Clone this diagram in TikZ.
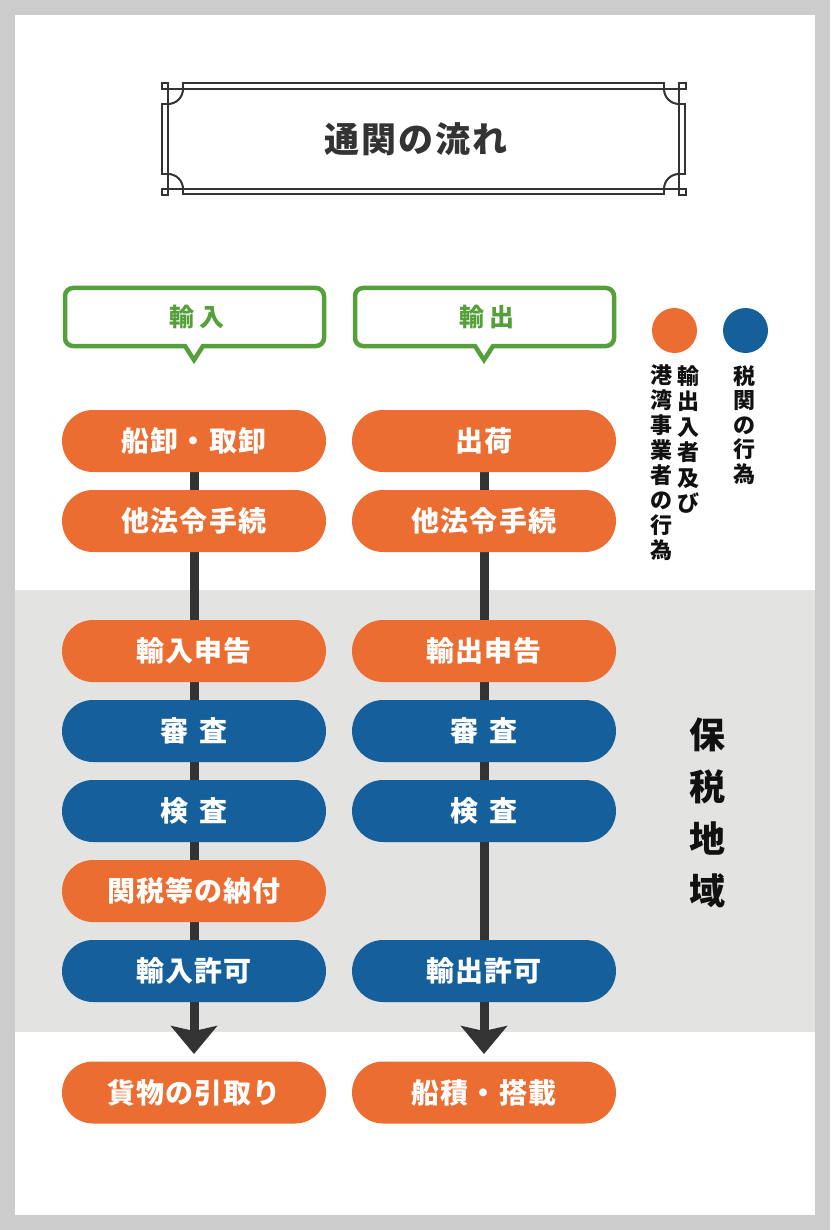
\documentclass[tikz,border=0pt]{standalone}
\usepackage{fontspec}
\newfontfamily\jp{Noto Sans CJK JP}
\newfontfamily\jpA[LetterSpace=4,WordSpace=1.5]{Noto Sans CJK JP}
\newfontfamily\jpT[LetterSpace=6]{Noto Sans CJK JP}
\newfontfamily\jpG[LetterSpace=22]{Noto Sans CJK JP}
\usetikzlibrary{arrows.meta,backgrounds}
\definecolor{orng}{HTML}{EC6D31}
\definecolor{blu}{HTML}{15609B}
\definecolor{grn}{HTML}{55A03B}
\definecolor{band}{HTML}{E3E3E2}
\definecolor{pagegray}{HTML}{CCCCCC}
\definecolor{dark}{HTML}{333333}
\definecolor{ink}{HTML}{111111}
\tikzset{
  pill/.style={rounded corners=31pt, minimum width=264pt, minimum height=62pt,
    inner sep=0pt, text=white, font=\jpA\bfseries\fontsize{28}{28}\selectfont},
  opill/.style={pill, fill=orng},
  bpill/.style={pill, fill=blu},
  shaft/.style={draw=dark, line width=9pt,
    -{Stealth[length=28pt,width=46pt,inset=5pt]}},
  frame/.style={draw=dark, line width=2pt},
  callout/.style={draw=grn, line width=4.5pt, fill=white, line join=miter},
  calltext/.style={text=grn, font=\jpG\bfseries\fontsize{25}{25}\selectfont, inner sep=0pt},
  legdot/.style={circle, minimum size=45pt, inner sep=0pt},
  legtext/.style={text=ink, align=center, inner sep=0pt, anchor=north},
}
\begin{document}
\begin{tikzpicture}[x=1pt,y=-1pt]
\useasboundingbox (0,0) rectangle (830,1230);

% title frame
\draw[frame] (161.5,83) rectangle (168,89);
\draw[frame] (679,83) rectangle (685.5,89);
\draw[frame] (161.5,189) rectangle (168,195.5);
\draw[frame] (679,189) rectangle (685.5,195.5);
\draw[frame] (161.5,89) -- (685.5,89);
\draw[frame] (161.5,189) -- (685.5,189);
\draw[frame] (168,83) -- (168,195.5);
\draw[frame] (679,83) -- (679,195.5);
\draw[frame] (183,89) -- (183,83.5) -- (664,83.5) -- (664,89);
\draw[frame] (183,189) -- (183,194.5) -- (664,194.5) -- (664,189);
\draw[frame] (168,104) -- (162,104) -- (162,174) -- (168,174);
\draw[frame] (679,104) -- (685,104) -- (685,174) -- (679,174);
\draw[frame] (183,89) arc[start angle=0,end angle=90,radius=15];
\draw[frame] (664,89) arc[start angle=180,end angle=90,radius=15];
\draw[frame] (183,189) arc[start angle=0,end angle=-90,radius=15];
\draw[frame] (664,189) arc[start angle=180,end angle=270,radius=15];
\node[text=dark, inner sep=0pt, font=\jpT\bfseries\fontsize{35}{35}\selectfont] (title) at (416,139) {通関の流れ};

% callouts
\draw[callout] (203,346) -- (316,346) arc[start angle=90,end angle=0,radius=8]
  -- (324,296) arc[start angle=0,end angle=-90,radius=8]
  -- (73,288) arc[start angle=-90,end angle=-180,radius=8]
  -- (65,338) arc[start angle=180,end angle=90,radius=8]
  -- (185,346) -- (194,360) -- cycle;
\node[calltext] (imp) at (197,317) {輸入};
\draw[callout] (493,346) -- (606,346) arc[start angle=90,end angle=0,radius=8]
  -- (614,296) arc[start angle=0,end angle=-90,radius=8]
  -- (363,288) arc[start angle=-90,end angle=-180,radius=8]
  -- (355,338) arc[start angle=180,end angle=90,radius=8]
  -- (475,346) -- (484,360) -- cycle;
\node[calltext] (exp) at (487,317) {輸出};

% legend
\node[legdot, fill=orng] (lo) at (674.5,330.5) {};
\node[legdot, fill=blu] (lb) at (745.5,330.5) {};
\node[legtext, font=\jp\bfseries\fontsize{22}{25.5}\selectfont] (lo1) at (688,365) {輸\\出\\入\\者\\及\\び};
\node[legtext, font=\jp\bfseries\fontsize{22}{25}\selectfont] (lo2) at (661,365) {港\\湾\\事\\業\\者\\の\\行\\為};
\node[legtext, font=\jp\bfseries\fontsize{22}{24.5}\selectfont] (lb1) at (744,365) {税\\関\\の\\行\\為};

% bonded area label
\node[text=ink, align=center, inner sep=0pt, font=\jp\bfseries\fontsize{36}{52}\selectfont] (bond) at (707,812.5) {保\\税\\地\\域};

% import column
\node[opill] (i1) at (194,441) {船卸・取卸};
\node[opill] (i2) at (194,521) {他法令手続};
\node[opill] (i3) at (194,651) {輸入申告};
\node[bpill] (i4) at (194,731) {審 査};
\node[bpill] (i5) at (194,811) {検 査};
\node[opill] (i6) at (194,891) {関税等の納付};
\node[bpill] (i7) at (194,971) {輸入許可};
\node[opill] (i8) at (194,1092.5) {貨物の引取り};
% export column
\node[opill] (e1) at (484,441) {出荷};
\node[opill] (e2) at (484,521) {他法令手続};
\node[opill] (e3) at (484,651) {輸出申告};
\node[bpill] (e4) at (484,731) {審 査};
\node[bpill] (e5) at (484,811) {検 査};
\node[bpill] (e7) at (484,971) {輸出許可};
\node[opill] (e8) at (484,1092.5) {船積・搭載};

\coordinate (tipL) at (194,1054);
\coordinate (tipR) at (484,1054);

\begin{pgfonlayer}{background}
  \fill[pagegray] (0,0) rectangle (830,1230);
  \fill[white] (15,15) rectangle (815,1215);
  \fill[band] (15,590) rectangle (815,1032);
  \draw[shaft] (i1.south) -- (tipL);
  \draw[shaft] (e1.south) -- (tipR);
\end{pgfonlayer}
\end{tikzpicture}
\end{document}
